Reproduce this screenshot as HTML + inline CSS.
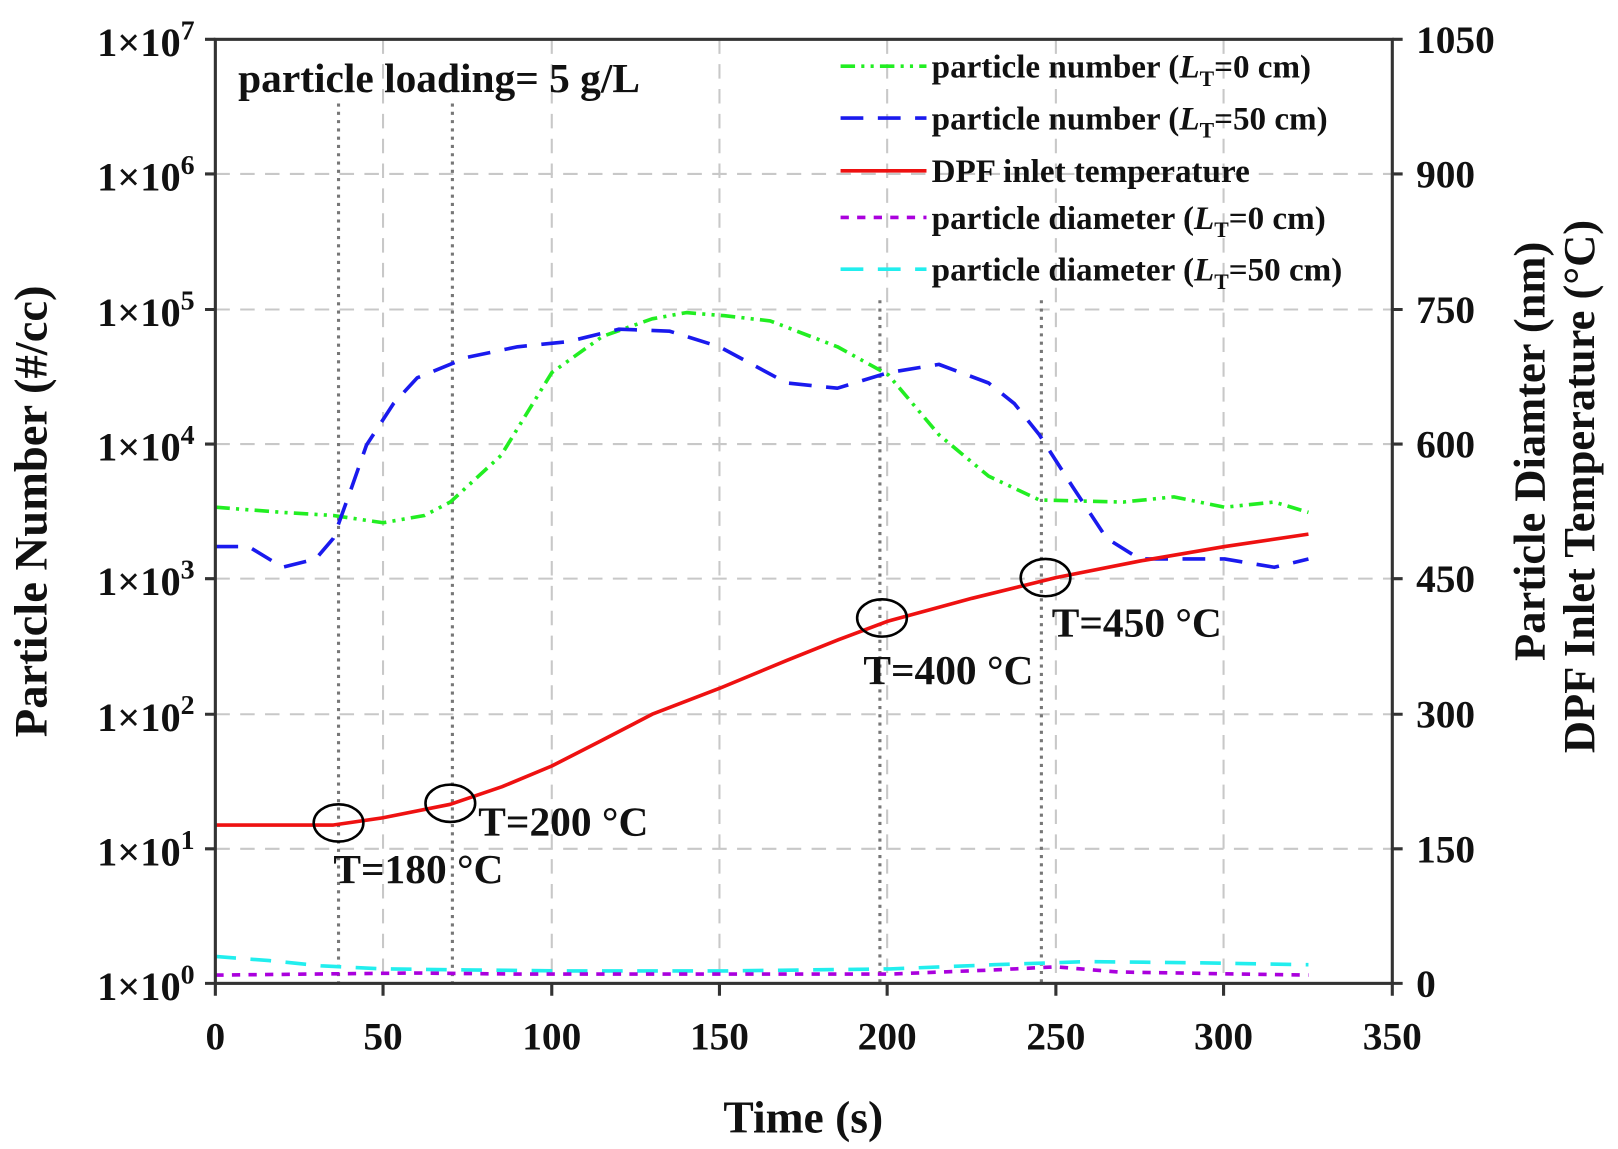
<!DOCTYPE html>
<html><head><meta charset="utf-8"><style>body{margin:0;background:#fff}svg{display:block}</style></head><body>
<svg width="1618" height="1149" viewBox="0 0 1563 1110" xmlns="http://www.w3.org/2000/svg" font-family="'Liberation Serif',serif" font-weight="bold">
<g stroke="#c8c8c8" stroke-width="2" stroke-dasharray="14,10" fill="none">
<line x1="370" y1="38" x2="370" y2="950"/><line x1="533" y1="38" x2="533" y2="950"/><line x1="695" y1="38" x2="695" y2="950"/><line x1="857" y1="38" x2="857" y2="950"/><line x1="1020" y1="38" x2="1020" y2="950"/><line x1="1182" y1="38" x2="1182" y2="950"/>
<line x1="208" y1="168" x2="1345" y2="168"/><line x1="208" y1="299" x2="1345" y2="299"/><line x1="208" y1="429" x2="1345" y2="429"/><line x1="208" y1="559" x2="1345" y2="559"/><line x1="208" y1="690" x2="1345" y2="690"/><line x1="208" y1="820" x2="1345" y2="820"/>
</g>
<g stroke="#777" stroke-width="3" stroke-dasharray="3,5" fill="none">
<line x1="327" y1="100" x2="327" y2="950"/><line x1="437" y1="100" x2="437" y2="950"/><line x1="850" y1="290" x2="850" y2="950"/><line x1="1006" y1="290" x2="1006" y2="950"/>
</g>
<g fill="none" stroke-width="3.5" stroke-linejoin="round">
<polyline stroke="#22ee22" stroke-dasharray="14,6,3,6,3,6" points="208,490 273,495 322,498 370,505 410,498 435,485 484,440 533,360 582,325 630,308 663,302 700,305 744,310 809,335 858,362 907,420 955,460 1004,483 1085,485 1134,480 1183,490 1231,485 1264,495"/>
<polyline stroke="#1a1aee" stroke-dasharray="22,14" points="208,528 240,528 273,548 305,540 322,520 340,470 354,430 380,390 403,365 452,345 500,335 549,330 598,318 647,320 695,335 760,370 809,375 858,360 907,352 955,370 980,390 1004,420 1036,470 1069,520 1101,540 1150,540 1183,540 1231,548 1264,540"/>
<polyline stroke="#ee1111" points="208,797 322,797 370,790 435,777 485,760 533,740 580,716 630,690 695,665 760,638 810,618 858,600 939,578 1020,558 1101,542 1183,528 1264,516"/>
<polyline stroke="#22eeee" stroke-dasharray="20,14" points="208,924 260,928 310,933 370,936 450,937 550,938 700,938 860,936 960,932 1050,929 1150,930 1264,932"/>
<polyline stroke="#aa00dd" stroke-dasharray="8,8" points="208,942 300,941 400,940 500,941 700,941 860,941 960,937 1020,934 1080,939 1200,941 1264,942"/>
</g>
<g fill="none" stroke="#000" stroke-width="2.5">
<ellipse cx="327" cy="795" rx="24" ry="18"/><ellipse cx="435" cy="776" rx="24" ry="18"/><ellipse cx="852" cy="597" rx="24" ry="18"/><ellipse cx="1010" cy="558" rx="24" ry="18"/>
</g>
<g stroke="#333" stroke-width="3" fill="none">
<rect x="208" y="38" width="1137" height="912"/>
<path d="M198 38H208M198 168H208M198 299H208M198 429H208M198 559H208M198 690H208M198 820H208M198 950H208"/>
<path d="M1345 38H1355M1345 168H1355M1345 299H1355M1345 429H1355M1345 559H1355M1345 690H1355M1345 820H1355M1345 950H1355"/>
<path d="M208 950V962M370 950V962M533 950V962M695 950V962M857 950V962M1020 950V962M1182 950V962M1345 950V962"/>
</g>
<g font-size="39" fill="#111" text-anchor="end">
<text x="188" y="54">1×10<tspan font-size="27" dy="-16">7</tspan></text>
<text x="188" y="184">1×10<tspan font-size="27" dy="-16">6</tspan></text>
<text x="188" y="315">1×10<tspan font-size="27" dy="-16">5</tspan></text>
<text x="188" y="445">1×10<tspan font-size="27" dy="-16">4</tspan></text>
<text x="188" y="575">1×10<tspan font-size="27" dy="-16">3</tspan></text>
<text x="188" y="706">1×10<tspan font-size="27" dy="-16">2</tspan></text>
<text x="188" y="836">1×10<tspan font-size="27" dy="-16">1</tspan></text>
<text x="188" y="966">1×10<tspan font-size="27" dy="-16">0</tspan></text>
</g>
<g font-size="38" fill="#111" text-anchor="start">
<text x="1368" y="51">1050</text><text x="1368" y="181">900</text><text x="1368" y="312">750</text><text x="1368" y="442">600</text><text x="1368" y="572">450</text><text x="1368" y="703">300</text><text x="1368" y="833">150</text><text x="1368" y="963">0</text>
</g>
<g font-size="38" fill="#111" text-anchor="middle">
<text x="208" y="1014">0</text><text x="370" y="1014">50</text><text x="533" y="1014">100</text><text x="695" y="1014">150</text><text x="857" y="1014">200</text><text x="1020" y="1014">250</text><text x="1182" y="1014">300</text><text x="1345" y="1014">350</text>
<text x="776" y="1094" font-size="44">Time (s)</text>
<text transform="translate(45,494) rotate(-90)" font-size="45">Particle Number (#/cc)</text>
<text transform="translate(1492,436) rotate(-90)" font-size="43">Particle Diamter (nm)</text>
<text transform="translate(1540,470) rotate(-90)" font-size="43">DPF Inlet Temperature (°C)</text>
</g>
<g font-size="40" fill="#111">
<text x="230" y="89">particle loading= 5 g/L</text>
<text x="322" y="853">T=180 °C</text>
<text x="462" y="807">T=200 °C</text>
<text x="834" y="661">T=400 °C</text>
<text x="1016" y="615">T=450 °C</text>
</g>
<g font-size="32" fill="#111">
<line x1="812" y1="64" x2="895" y2="64" stroke="#22ee22" stroke-width="3.5" stroke-dasharray="14,6,3,6,3,6"/>
<text x="900" y="75">particle number (<tspan font-style="italic">L</tspan><tspan font-size="21" dy="8">T</tspan><tspan dy="-8">=0 cm)</tspan></text>
<line x1="812" y1="114" x2="895" y2="114" stroke="#1a1aee" stroke-width="3.5" stroke-dasharray="22,14"/>
<text x="900" y="125">particle number (<tspan font-style="italic">L</tspan><tspan font-size="21" dy="8">T</tspan><tspan dy="-8">=50 cm)</tspan></text>
<line x1="812" y1="165" x2="895" y2="165" stroke="#ee1111" stroke-width="3.5"/>
<text x="900" y="176">DPF inlet temperature</text>
<line x1="812" y1="210" x2="895" y2="210" stroke="#aa00dd" stroke-width="3.5" stroke-dasharray="8,8"/>
<text x="900" y="221">particle diameter (<tspan font-style="italic">L</tspan><tspan font-size="21" dy="8">T</tspan><tspan dy="-8">=0 cm)</tspan></text>
<line x1="812" y1="260" x2="895" y2="260" stroke="#22eeee" stroke-width="3.5" stroke-dasharray="22,14"/>
<text x="900" y="271">particle diameter (<tspan font-style="italic">L</tspan><tspan font-size="21" dy="8">T</tspan><tspan dy="-8">=50 cm)</tspan></text>
</g>
</svg>
</body></html>
